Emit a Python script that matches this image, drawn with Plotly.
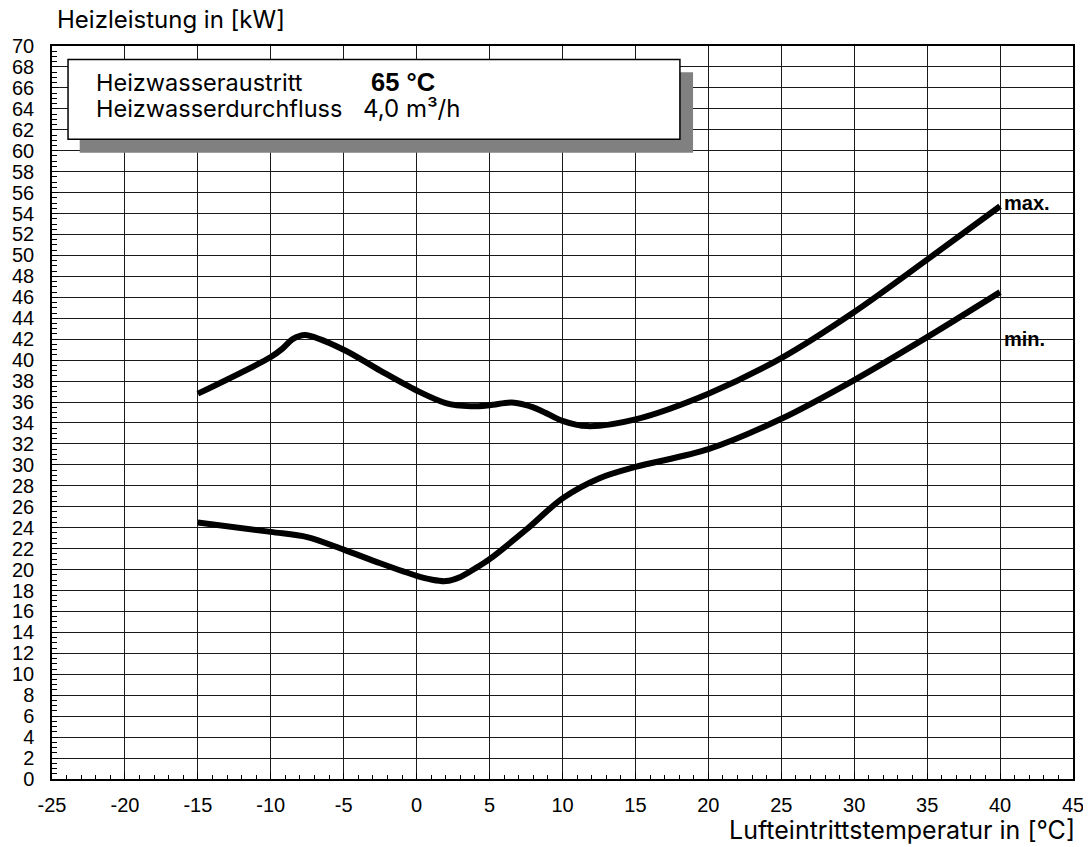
import plotly.graph_objects as go

# Data
max_x = [-15, -10, -9.2, -8.5, -7.65, -5, -2.5, 0, 2, 3.7, 5, 6.5, 7.5, 8.5, 10, 11.7, 15, 20, 25, 30, 35, 40]
max_y = [36.8, 40.3, 41.1, 42.0, 42.4, 41.0, 39.0, 37.1, 35.9, 35.6, 35.7, 35.95, 35.7, 35.2, 34.2, 33.7, 34.35, 36.8, 40.2, 44.6, 49.6, 54.7]

min_x = [-15, -10, -7.5, -5, -2.5, 0, 1, 2, 3, 4, 5, 7.5, 10, 12.5, 15, 20, 25, 30, 35, 40]
min_y = [24.5, 23.6, 23.1, 21.9, 20.6, 19.4, 19.05, 18.9, 19.3, 20.1, 21.0, 23.8, 26.8, 28.7, 29.8, 31.5, 34.4, 38.1, 42.2, 46.5]

x_ticks = list(range(-25, 46, 5))
y_ticks = list(range(0, 71, 2))

y_title = "Heizleistung in [kW]"
x_title = "Lufteintrittstemperatur in [°C]"
info_rows = [("Heizwasseraustritt", "65 °C"), ("Heizwasserdurchfluss", "4,0 m³/h")]
curve_labels = [("max.", 40, 55.0), ("min.", 40, 42.0)]

tick_font = dict(family="Liberation Sans, Arial, sans-serif", size=20, color="black")
text_font = "Inter, Roboto, sans-serif"

fig = go.Figure()
for xs, ys in [(max_x, max_y), (min_x, min_y)]:
    fig.add_trace(go.Scatter(
        x=xs, y=ys, mode="lines",
        line=dict(color="black", width=6, shape="spline", smoothing=0.9),
        showlegend=False, hoverinfo="skip",
    ))

axis_common = dict(
    showline=True, linecolor="black", linewidth=1.5, mirror=True,
    showgrid=True, gridcolor="#1a1a1a", gridwidth=1,
    zeroline=False, ticks="inside", ticklen=6, tickcolor="black",
    tickfont=tick_font, automargin=False, ticklabeloverflow="allow",
)

fig.update_xaxes(
    range=[-25, 45], tickvals=x_ticks, ticktext=[str(v) for v in x_ticks],
    minor=dict(dtick=1, ticks="inside", ticklen=4, tickcolor="black", showgrid=False),
    ticklabelstandoff=7,
    **axis_common,
)
fig.update_yaxes(
    range=[0, 70], tickvals=y_ticks, ticktext=[str(v) for v in y_ticks],
    minor=dict(dtick=0.5, ticks="inside", ticklen=5, tickcolor="black", showgrid=False),
    ticklabelstandoff=12,
    **axis_common,
)

# Info box with shadow
fig.add_shape(type="rect", xref="x", yref="y", x0=-23.1, x1=18.95, y0=59.8, y1=67.5,
              fillcolor="#808080", line=dict(width=0), layer="above")
fig.add_shape(type="rect", xref="x", yref="y", x0=-23.9, x1=18.05, y0=61.1, y1=68.7,
              fillcolor="white", line=dict(color="black", width=1.5), layer="above")

row_y = [66.55, 64.05]
for (lab, val), yy in zip(info_rows, row_y):
    fig.add_annotation(x=-22.1, y=yy, xref="x", yref="y", text=lab, showarrow=False,
                       xanchor="left", yanchor="middle",
                       font=dict(family=text_font, size=23.5, color="black"))
fig.add_annotation(x=-3.3, y=row_y[0], xref="x", yref="y", text="<b>" + info_rows[0][1] + "</b>",
                   showarrow=False, xanchor="left", yanchor="middle",
                   font=dict(family="Liberation Sans, Arial, sans-serif", size=25.5, color="black"))
fig.add_annotation(x=-3.8, y=row_y[1], xref="x", yref="y", text=info_rows[1][1],
                   showarrow=False, xanchor="left", yanchor="middle",
                   font=dict(family=text_font, size=24, color="black"))

for txt, xx, yy in curve_labels:
    fig.add_annotation(x=xx, y=yy, xref="x", yref="y", text="<b>" + txt + "</b>", showarrow=False,
                       xanchor="left", yanchor="middle", xshift=2,
                       font=dict(family="Liberation Sans, Arial, sans-serif", size=20, color="black"))

fig.add_annotation(x=0, y=1, xref="paper", yref="paper", text=y_title, showarrow=False,
                   xanchor="left", yanchor="bottom", xshift=3, yshift=10,
                   font=dict(family=text_font, size=24, color="black"))
fig.add_annotation(x=1, y=0, xref="paper", yref="paper", text=x_title, showarrow=False,
                   xanchor="right", yanchor="top", xshift=4, yshift=-34,
                   font=dict(family=text_font, size=25, color="black"))

fig.update_layout(
    width=1083, height=839,
    margin=dict(l=44, r=18, t=38, b=68),
    paper_bgcolor="white", plot_bgcolor="white",
)

fig.write_html("out.html")
